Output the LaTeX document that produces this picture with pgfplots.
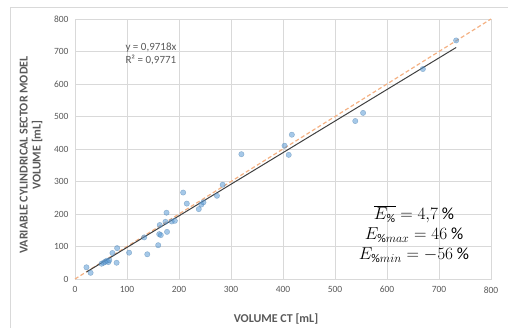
\documentclass[border=0pt]{standalone}
\usepackage{pgfplots}
\pgfplotsset{compat=1.18}
\usepackage{fontspec}
\setmainfont{Carlito}
\definecolor{txt}{HTML}{595959}
\definecolor{gridc}{HTML}{D9D9D9}
\definecolor{ptblue}{HTML}{5B9BD5}
\definecolor{dashor}{HTML}{F4B183}
\definecolor{trend}{HTML}{404040}
\begin{document}
\begin{tikzpicture}[x=1pt,y=1pt]
\path[use as bounding box] (0,0) rectangle (508,328);
\draw[gridc, line width=0.6pt] (10.5,0) -- (10.5,321) -- (508,321);
\begin{axis}[
  at={(75pt,49pt)}, anchor=south west,
  scale only axis, width=416pt, height=260pt,
  xmin=0, xmax=800, ymin=0, ymax=800,
  xtick distance=100, ytick distance=100,
  grid=major, major grid style={gridc, line width=0.5pt},
  axis line style={gridc},
  major tick length=0pt,
  tick label style={font=\fontsize{9.5}{11}\selectfont, text=txt},
  /pgf/number format/assume math mode=true,
  xticklabel style={yshift=-4pt},
  yticklabel style={xshift=-3pt},
  clip=false,
]
\addplot[dashor, line width=1.2pt, dash pattern=on 4pt off 2.5pt] coordinates {(0,0) (800,800)};
\addplot[only marks, mark=*, mark size=2.7pt,
  mark options={fill=ptblue, fill opacity=0.55, draw=ptblue!80!black, draw opacity=0.5, line width=0.4pt}]
  coordinates {
(22,36) (30,19) (51,47) (55,50) (58,53) (61,56) (64,52) (66,58)
(72,80) (81,95) (80,50) (104,81) (133,128) (139,76) (160,104)
(162,138) (165,135) (163,166) (176,204) (174,176) (177,145)
(186,177) (192,179) (208,266) (215,232) (238,215) (243,229)
(247,236) (273,256) (284,290) (320,384) (403,410) (411,382)
(417,444) (539,486) (554,511) (669,646) (733,734)
};
\addplot[trend, line width=1pt] coordinates {(22,21.38) (733,712.33)};
\node[text=txt, font=\fontsize{11}{13.5}\selectfont, align=left, anchor=center] at (axis cs:146,692) {y = 0,9718x\\R² = 0,9771};
\node[font=\fontsize{17}{20}\selectfont, align=center] at (axis cs:652,138)
  {$\overline{E_{\%}} = 4{,}7\ \%$\\ $E_{\%max} = 46\ \%$\\ $E_{\%min} = -56\ \%$};
\end{axis}
\node[text=txt, font=\bfseries\fontsize{12}{14}\selectfont] at (276,9) {VOLUME CT [mL]};
\node[text=txt, font=\bfseries\fontsize{12}{13}\selectfont, rotate=90, align=center] at (31,173)
  {VARIABLE CYLINDRICAL SECTOR MODEL\\VOLUME [mL]};
\end{tikzpicture}
\end{document}
